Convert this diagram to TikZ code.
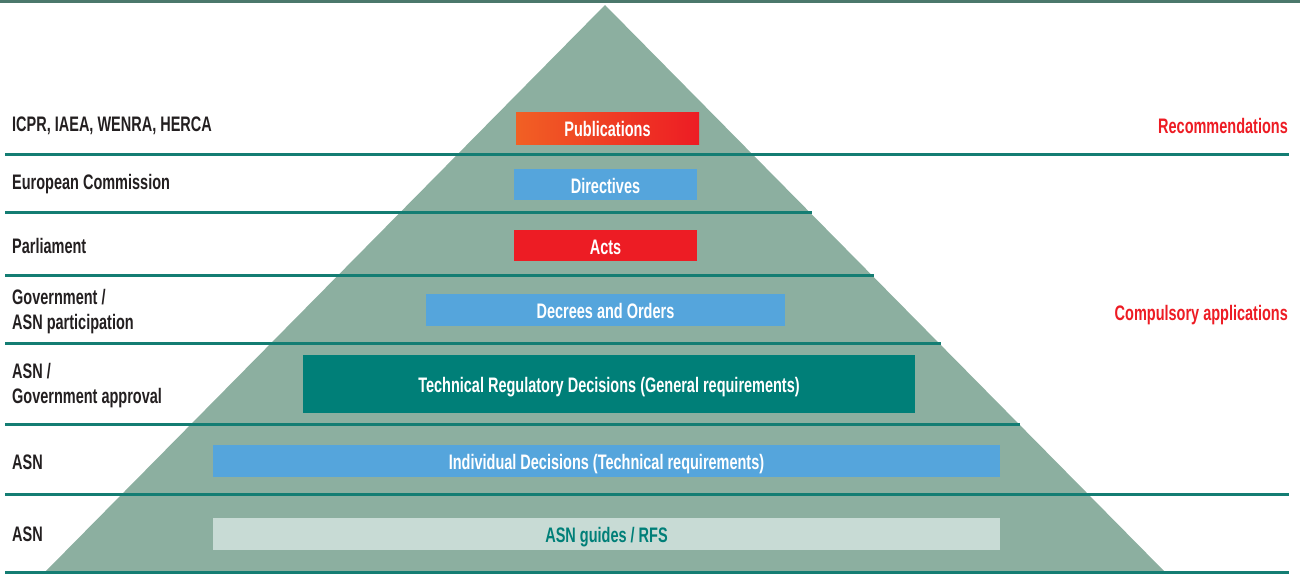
\documentclass[tikz,border=0pt]{standalone}
\usepackage{fontspec}
\setmainfont{Liberation Sans}[FakeStretch=0.69]
\usepackage{tikz}
\usetikzlibrary{calc, positioning}
\definecolor{pyr}{RGB}{140,175,160}
\definecolor{rulec}{RGB}{20,125,115}
\definecolor{topc}{RGB}{75,120,108}
\definecolor{lblue}{RGB}{85,165,220}
\definecolor{ared}{RGB}{237,28,36}
\definecolor{aorange}{RGB}{241,96,36}
\definecolor{dteal}{RGB}{0,127,120}
\definecolor{pale}{RGB}{200,219,213}
\definecolor{ink}{RGB}{35,31,32}
\tikzstyle{lbl}=[inner sep=0pt, anchor=west, align=left, text=ink, font=\fontsize{21}{25}\selectfont\bfseries]
\tikzstyle{rlbl}=[inner sep=0pt, anchor=east, text=ared, font=\fontsize{21}{25}\selectfont\bfseries]
\tikzstyle{box}=[inner sep=0pt, minimum height=32pt, text height=18pt, text depth=1pt, text=white, font=\fontsize{21}{25}\selectfont\bfseries]
\tikzstyle{sep}=[draw=rulec, line width=3pt]

\begin{document}
\begin{tikzpicture}[x=1pt, y=-1pt]
\useasboundingbox (0,0) rectangle (1300,574);
\coordinate (apex) at (605,5);
\coordinate (bl) at (44,573);
\coordinate (br) at (1166,573);
\fill[pyr] (apex) -- (br) -- (bl) -- cycle;

% rules between levels
\draw[draw=topc, line width=3pt] (0,1.5) -- (1300,1.5);
\draw[sep] (5,154) -- (1289,154);
\draw[sep] (5,212) -- (812,212);
\draw[sep] (5,275) -- (874,275);
\draw[sep] (5,343) -- (941,343);
\draw[sep] (5,424) -- (1020,424);
\draw[sep] (5,494) -- (1289,494);
\draw[sep] (5,572) -- (1289,572);

% levels of the pyramid
\node[box, minimum width=183pt, left color=aorange, right color=ared] (pub) at (607.5,128) {Publications};
\node[box, minimum width=183pt, minimum height=31pt, fill=lblue] (dir) at (605.5,184.5) {Directives};
\node[box, minimum width=183pt, minimum height=31pt, fill=ared] (acts) at (605.5,245.5) {Acts};
\node[box, minimum width=359pt, fill=lblue] (dec) at (605.5,310) {Decrees and Orders};
\node[box, minimum width=612pt, minimum height=58pt, fill=dteal] (trd) at (609,384) {Technical Regulatory Decisions (General requirements)};
\node[box, minimum width=787pt, fill=lblue] (ind) at (606.5,461) {Individual Decisions (Technical requirements)};
\node[box, minimum width=787pt, fill=pale, text=dteal] (guid) at (606.5,534) {ASN guides / RFS};

% who issues them
\node[lbl] (icpr) at (12,126) {ICPR, IAEA, WENRA, HERCA};
\node[lbl] (ec) at (12,184) {European Commission};
\node[lbl] (parl) at (12,246) {Parliament};
\node[lbl] (gov) at (12,312) {Government /\\ASN participation};
\node[lbl] (asnA) at (12,386) {ASN /\\Government approval};
\node[lbl] (asnB) at (12,462) {ASN};
\node[lbl] (asnC) at (12,534) {ASN};

\node[rlbl] (rec) at (1288,126) {Recommendations};
\node[rlbl] (comp) at (1288,315) {Compulsory applications};
\end{tikzpicture}
\end{document}
